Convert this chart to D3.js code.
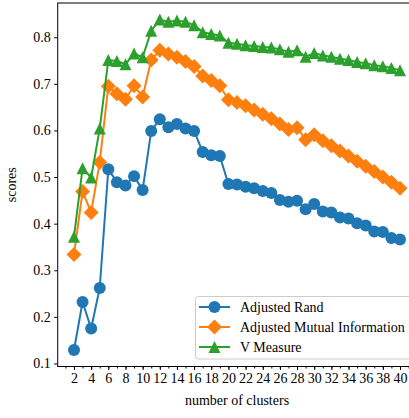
<!DOCTYPE html>
<html>
<head>
<meta charset="utf-8">
<script src="https://cdn.jsdelivr.net/npm/d3@7/dist/d3.min.js"></script>
<style>
  html, body { margin: 0; padding: 0; background: #fff; }
  svg { display: block; }
</style>
</head>
<body>
<svg id="chart" width="409" height="418"></svg>
<script>
const clusters = d3.range(2, 41);
const adjustedRand = [0.129, 0.232, 0.175, 0.262, 0.517, 0.489, 0.482, 0.502, 0.472, 0.599,
  0.624, 0.607, 0.614, 0.604, 0.599, 0.554, 0.547, 0.545, 0.485, 0.484,
  0.479, 0.476, 0.470, 0.466, 0.451, 0.447, 0.449, 0.431, 0.442, 0.426,
  0.424, 0.413, 0.411, 0.401, 0.396, 0.383, 0.382, 0.369, 0.366];
const adjustedMI = [0.334, 0.469, 0.424, 0.532, 0.695, 0.679, 0.667, 0.696, 0.672, 0.751,
  0.772, 0.764, 0.757, 0.748, 0.737, 0.717, 0.707, 0.696, 0.666, 0.660,
  0.653, 0.644, 0.635, 0.625, 0.614, 0.602, 0.606, 0.580, 0.591, 0.578,
  0.567, 0.556, 0.545, 0.534, 0.523, 0.512, 0.500, 0.489, 0.476];
const vMeasure = [0.372, 0.519, 0.499, 0.604, 0.751, 0.749, 0.742, 0.765, 0.757, 0.814,
  0.838, 0.833, 0.836, 0.833, 0.826, 0.811, 0.807, 0.804, 0.788, 0.786,
  0.783, 0.781, 0.779, 0.778, 0.774, 0.769, 0.772, 0.758, 0.766, 0.761,
  0.758, 0.754, 0.751, 0.747, 0.744, 0.740, 0.738, 0.734, 0.729];
const seriesNames = ["Adjusted Rand", "Adjusted Mutual Information", "V Measure"];
const xTicks = d3.range(2, 41, 2);
const yTicks = [0.1, 0.2, 0.3, 0.4, 0.5, 0.6, 0.7, 0.8];

const colors = ["#1f77b4", "#ff7f0e", "#2ca02c"];
const markers = ["circle", "diamond", "triangle"];
const seriesData = [adjustedRand, adjustedMI, vMeasure];
const FONT = "'Liberation Serif', 'Times New Roman', Times, 'DejaVu Serif', serif";
const FS = "14px";

const svg = d3.select("#chart");
const pLeft = 57.7, pRight = 416.3, pTop = 3, pBottom = 366.5;

const x = d3.scaleLinear().domain([0.1, 41.9]).range([pLeft, pRight]);
const y = d3.scaleLinear().domain([0.0935, 0.8735]).range([pBottom, pTop]);

// frame
svg.append("rect").attr("x", pLeft).attr("y", pTop).attr("width", pRight - pLeft).attr("height", pBottom - pTop)
  .attr("fill", "none").attr("stroke", "#000").attr("stroke-width", 1);

// x axis
const xAxis = d3.axisBottom(x).tickValues(xTicks).tickFormat(d3.format("d")).tickSize(3.5).tickPadding(3);
const gx = svg.append("g").attr("transform", `translate(0,${pBottom})`).call(xAxis);
const xMinor = d3.axisBottom(x).tickValues(d3.range(1, 42)).tickFormat("").tickSize(2);
svg.append("g").attr("transform", `translate(0,${pBottom})`).call(xMinor).select(".domain").remove();
gx.select(".domain").remove();
gx.attr("font-family", null).attr("font-size", null);
gx.selectAll("text").style("font-size", FS).style("fill", "#000").style("font-family", FONT);
gx.selectAll("line").attr("stroke", "#000");

// y axis
const yAxis = d3.axisLeft(y).tickValues(yTicks).tickFormat(d3.format(".1f")).tickSize(3.5).tickPadding(3.5);
const gy = svg.append("g").attr("transform", `translate(${pLeft},0)`).call(yAxis);
gy.select(".domain").remove();
gy.attr("font-family", null).attr("font-size", null);
gy.selectAll("text").style("font-size", FS).style("fill", "#000").style("font-family", FONT);

// labels
svg.append("text").attr("x", (pLeft + pRight) / 2).attr("y", 405).attr("text-anchor", "middle")
  .style("font-size", FS).style("font-family", FONT).text("number of clusters");
svg.append("text").attr("transform", `translate(16,${(pTop + pBottom) / 2}) rotate(-90)`)
  .attr("text-anchor", "middle").style("font-size", FS).style("font-family", FONT).text("scores");

function markerPath(type) {
  if (type === "circle") return d3.symbol(d3.symbolCircle, Math.PI * 6 * 6)();
  if (type === "diamond") return "M0,-7.5L7.5,0L0,7.5L-7.5,0Z";
  return "M0,-6L6,6L-6,6Z";
}

const plot = svg.append("g");
const line = d3.line().x((d, i) => x(clusters[i])).y(d => y(d));
seriesData.forEach((vals, s) => {
  plot.append("path").attr("d", line(vals)).attr("fill", "none")
    .attr("stroke", colors[s]).attr("stroke-width", 2);
  plot.selectAll(null).data(vals).enter().append("path")
    .attr("transform", (d, i) => `translate(${x(clusters[i])},${y(d)})`)
    .attr("d", markerPath(markers[s])).attr("fill", colors[s]);
});

// legend
const lg = svg.append("g");
lg.append("rect").attr("x", 195.5).attr("y", 296.5).attr("width", 220).attr("height", 62.5)
  .attr("rx", 3).attr("fill", "#fff").attr("fill-opacity", 0.8).attr("stroke", "#ccc").attr("stroke-width", 1);
seriesNames.forEach((name, s) => {
  const cy = 307 + s * 20;
  lg.append("line").attr("x1", 199).attr("x2", 230).attr("y1", cy).attr("y2", cy)
    .attr("stroke", colors[s]).attr("stroke-width", 2);
  lg.append("path").attr("transform", `translate(214.5,${cy})`).attr("d", markerPath(markers[s])).attr("fill", colors[s]);
  lg.append("text").attr("x", 240).attr("y", cy + 4.5).style("font-size", FS).style("font-family", FONT).text(name);
});
</script>
</body>
</html>
